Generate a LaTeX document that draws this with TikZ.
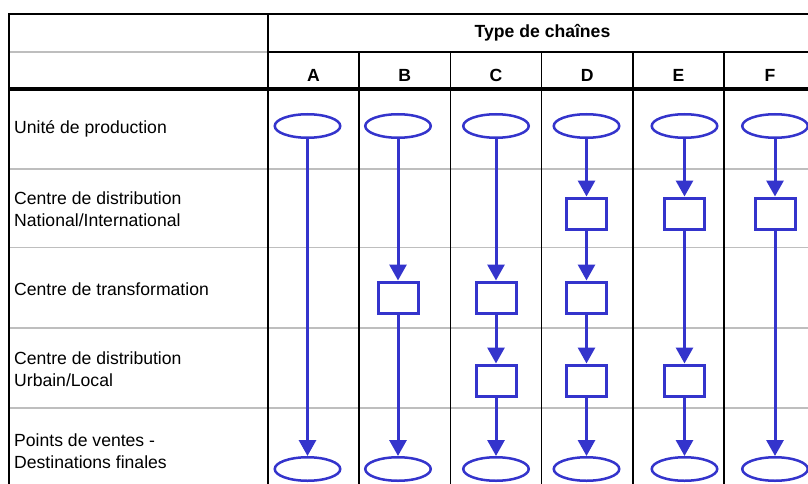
\documentclass[tikz,border=0pt]{standalone}
\usepackage{fontspec}
\setmainfont{Liberation Sans}
\usetikzlibrary{arrows.meta,shapes.geometric}
\definecolor{chainblue}{RGB}{52,52,204}
\definecolor{rowgray}{RGB}{190,190,190}
\tikzset{
  ell/.style={ellipse,draw=chainblue,line width=2.5pt,minimum width=65.5pt,minimum height=23.5pt,inner sep=0pt,fill=white},
  bx/.style={rectangle,draw=chainblue,line width=3pt,minimum width=40pt,minimum height=31pt,inner sep=0pt,fill=white},
  arr/.style={draw=chainblue,line width=3pt,-{Triangle[width=17pt,length=16pt]}},
  lbl/.style={anchor=west,inner sep=0pt,align=left,font=\fontsize{17.6}{22}\selectfont},
  hdr/.style={inner sep=0pt,font=\fontsize{17.6}{22}\selectfont\bfseries},
  gridg/.style={draw=rowgray,line width=1.6pt},
  gridb/.style={draw=black,line width=1.8pt},
}
\begin{document}
\begin{tikzpicture}[x=1pt,y=-1pt]
\useasboundingbox (0,0) rectangle (808,484);
\fill[white] (0,0) rectangle (808,484);
% grid gray
\draw[gridg] (9,52) -- (268,52);
\foreach \yy in {169,247.5,328,408} \draw[gridg] (9,\yy) -- (808,\yy);
% grid black
\draw[gridb] (9,484) -- (9,14) -- (808,14);
\draw[gridb] (268,14) -- (268,484);
\draw[gridb] (268,52) -- (808,52);
\foreach \xx in {359,450.5,541.5,633,724} \draw[gridb] (\xx,52) -- (\xx,484);
\draw[black,line width=4pt] (9,89) -- (808,89);
% header
\node[hdr] (title) at (542.5,33) {Type de chaînes};
\node[hdr] (hA) at (313.5,75) {A};
\node[hdr] (hB) at (404.75,75) {B};
\node[hdr] (hC) at (496,75) {C};
\node[hdr] (hD) at (587.25,75) {D};
\node[hdr] (hE) at (678.5,75) {E};
\node[hdr] (hF) at (770,75) {F};
% row labels
\node[lbl] (r1) at (14,129) {Unité de production};
\node[lbl] (r2) at (14,209) {Centre de distribution\\National/International};
\node[lbl] (r3) at (14,289) {Centre de transformation};
\node[lbl] (r4) at (14,369) {Centre de distribution\\Urbain/Local};
\node[lbl] (r5) at (14,451) {Points de ventes -\\Destinations finales};
% chain A
\node[ell] (A1) at (307.5,126) {};
\node[ell] (A5) at (307.5,469) {};
\draw[arr] (A1) -- (A5);
% chain B
\node[ell] (B1) at (398,126) {};
\node[bx] (B3) at (398,297.5) {};
\node[ell] (B5) at (398,469) {};
\draw[arr] (B1) -- (B3);
\draw[arr] (B3) -- (B5);
% chain C
\node[ell] (C1) at (496,126) {};
\node[bx] (C3) at (496,297.5) {};
\node[bx] (C4) at (496,380.5) {};
\node[ell] (C5) at (496,469) {};
\draw[arr] (C1) -- (C3);
\draw[arr] (C3) -- (C4);
\draw[arr] (C4) -- (C5);
% chain D
\node[ell] (D1) at (586.5,126) {};
\node[bx] (D2) at (586.5,213.5) {};
\node[bx] (D3) at (586.5,297.5) {};
\node[bx] (D4) at (586.5,380.5) {};
\node[ell] (D5) at (586.5,469) {};
\draw[arr] (D1) -- (D2);
\draw[arr] (D2) -- (D3);
\draw[arr] (D3) -- (D4);
\draw[arr] (D4) -- (D5);
% chain E
\node[ell] (E1) at (684.5,126) {};
\node[bx] (E2) at (684.5,213.5) {};
\node[bx] (E4) at (684.5,380.5) {};
\node[ell] (E5) at (684.5,469) {};
\draw[arr] (E1) -- (E2);
\draw[arr] (E2) -- (E4);
\draw[arr] (E4) -- (E5);
% chain F
\node[ell] (F1) at (775,126) {};
\node[bx] (F2) at (775,213.5) {};
\node[ell] (F5) at (775,469) {};
\draw[arr] (F1) -- (F2);
\draw[arr] (F2) -- (F5);
\end{tikzpicture}
\end{document}
